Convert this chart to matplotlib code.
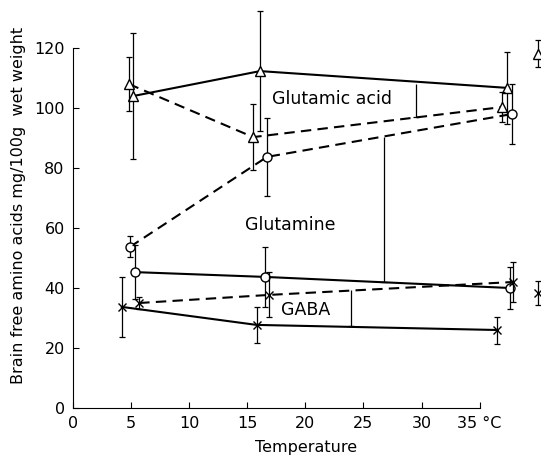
import matplotlib
matplotlib.use("Agg")
import matplotlib.pyplot as plt

# glutamic acid (triangles)
glu_solid_x = [5.2, 16.1, 37.4]
glu_solid_y = [104, 112.3, 106.7]
glu_solid_err = [21, 20, 12]
glu_dash_x = [4.8, 15.5, 36.9]
glu_dash_y = [108, 90.3, 100.3]
glu_dash_err = [9, 11, 5]

# glutamine (circles)
gln_dash_x = [4.9, 16.7, 37.8]
gln_dash_y = [53.7, 83.7, 98]
gln_dash_err = [3.5, 13, 10]
gln_solid_x = [5.3, 16.5, 37.6]
gln_solid_y = [45.3, 43.7, 40]
gln_solid_err = [9, 10, 7]

# GABA (crosses)
gaba_solid_x = [4.2, 15.8, 36.5]
gaba_solid_y = [33.7, 27.7, 26]
gaba_solid_err = [10, 6, 4.5]
gaba_dash_x = [5.7, 16.9, 37.9]
gaba_dash_y = [35, 37.7, 42]
gaba_dash_err = [2, 7.5, 6.7]

# separate points at far right
extra_x = [40, 40]
extra_y = [118, 38.3]
extra_err = [4.5, 4]
extra_marker = ["^", "x"]

# vertical connector lines (x, y_low, y_high)
conn_x = [29.5, 26.8, 23.9]
conn_lo = [97, 42, 27.3]
conn_hi = [108, 90.3, 39.3]

labels = ["Glutamic acid", "Glutamine", "GABA"]
label_x = [22.3, 18.7, 20.0]
label_y = [103, 61, 32.7]

plt.rcParams["font.family"] = ["DejaVu Sans"]

fig = plt.figure(figsize=(5.46, 4.65), dpi=100)
ax = fig.add_axes([73 / 546, 57 / 465, 467 / 546, 405 / 465])


def series(x, y, err, marker, ls):
    line, = ax.plot(x, y, color="black", lw=1.5, ls=ls)
    if ls == "--":
        line.set_dashes((5, 3))
    ax.errorbar(x, y, yerr=err, fmt="none", ecolor="black", elinewidth=0.9, capsize=2.5, capthick=0.9)
    ax.plot(x, y, ls="none", marker=marker, ms=6.5 if marker != "x" else 6,
            mfc="white", mec="black", mew=1.0)


series(glu_solid_x, glu_solid_y, glu_solid_err, "^", "-")
series(glu_dash_x, glu_dash_y, glu_dash_err, "^", "--")
series(gln_dash_x, gln_dash_y, gln_dash_err, "o", "--")
series(gln_solid_x, gln_solid_y, gln_solid_err, "o", "-")
series(gaba_solid_x, gaba_solid_y, gaba_solid_err, "x", "-")
series(gaba_dash_x, gaba_dash_y, gaba_dash_err, "x", "--")

for xe, ye, ee, mk in zip(extra_x, extra_y, extra_err, extra_marker):
    ax.errorbar([xe], [ye], yerr=[ee], fmt="none", ecolor="black", elinewidth=0.9, capsize=2.5, capthick=0.9)
    ax.plot([xe], [ye], ls="none", marker=mk, ms=6.5 if mk != "x" else 6, mfc="white", mec="black", mew=1.0)

ax.vlines(conn_x, conn_lo, conn_hi, color="black", lw=0.9)
ax.plot(conn_x, conn_lo, ls="none", marker="_", ms=5, color="black", mew=0.9)

for t, lx, ly in zip(labels, label_x, label_y):
    ax.text(lx, ly, t, ha="center", va="center", fontsize=12.5)

ax.set_xlim(0, 40.2)
ax.set_ylim(0, 135)
ax.spines["top"].set_visible(False)
ax.spines["right"].set_visible(False)
ax.spines["left"].set_bounds(0, 120)
ax.spines["bottom"].set_bounds(0, 35)
ax.set_xticks([0, 5, 10, 15, 20, 25, 30, 35])
ax.set_xticklabels(["0", "5", "10", "15", "20", "25", "30", "35 °C"])
ax.set_yticks([0, 20, 40, 60, 80, 100, 120])
ax.tick_params(direction="in", length=4, labelsize=11.5, pad=6)
ax.set_xlabel("Temperature", fontsize=11.5, labelpad=6)
ax.set_ylabel("Brain free amino acids mg/100g  wet weight", fontsize=11.5, labelpad=6)

fig.savefig("out.png", dpi=100)
